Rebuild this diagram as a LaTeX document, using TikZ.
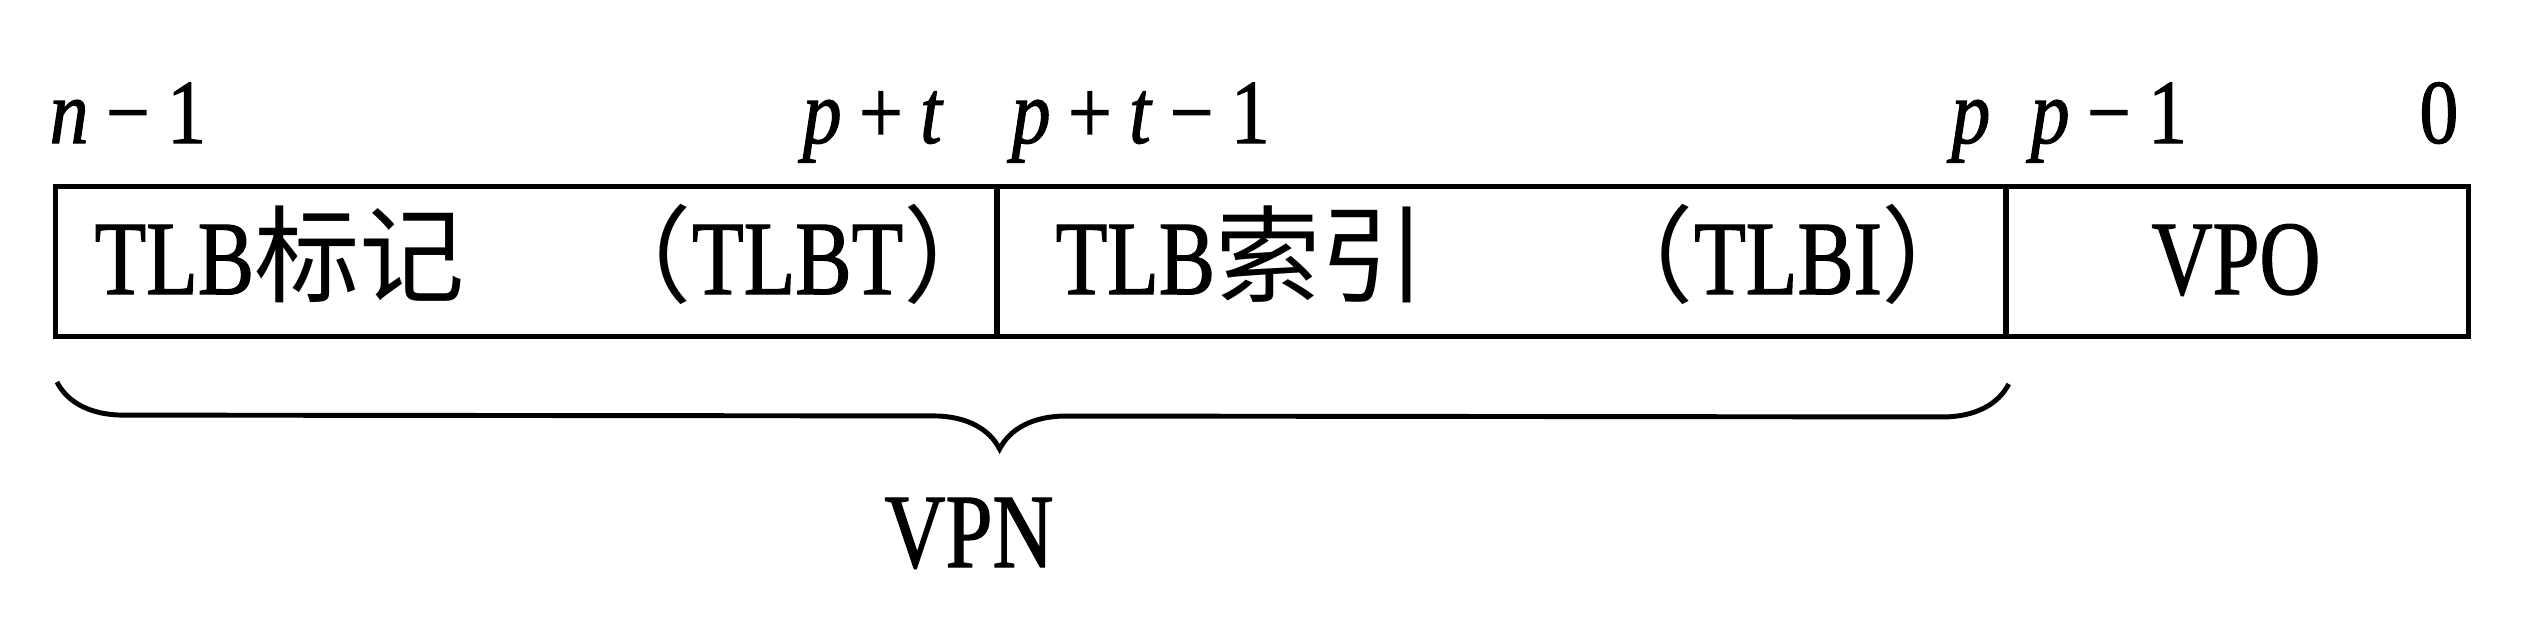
\documentclass[tikz,border=0pt]{standalone}
\usepackage{fontspec}
\setmainfont{Liberation Serif}
\newfontfamily\latc[FakeStretch=0.8,FakeBold=1.2]{Liberation Serif}
\newfontfamily\labf[FakeStretch=0.85,FakeBold=1.2]{Liberation Serif}
\newfontfamily\cjk{Noto Sans CJK SC}
\usetikzlibrary{decorations.pathreplacing}
\newcommand\opgap{\hspace{0.19em}}
\begin{document}
\begin{tikzpicture}[x=0.01cm,y=-0.01cm,
  field/.style={draw, line width=1.45pt, minimum height=1.5cm, inner sep=0pt, anchor=north west},
  ftext/.style={inner sep=0pt, font=\fontsize{30}{32}\selectfont},
  bitlbl/.style={inner sep=0pt, font=\fontsize{26}{28}\selectfont\labf},
  bracestyle/.style={line width=1.4pt, decorate, decoration={brace, mirror, amplitude=0.66cm, aspect=0.483}}]
\useasboundingbox (0,0) rectangle (2522,620);
\fill[white] (0,0) rectangle (2522,620);
% fields
\node[field, minimum width=9.41cm] (tag) at (53,184) {};
\node[field, minimum width=10.09cm] (idx) at (994,184) {};
\node[field, minimum width=4.63cm] (off) at (2003,184) {};
% field texts
\node[ftext, anchor=base west] (tagname) at (94,294) {{\latc TLB}{\cjk 标记}};
\node[ftext, anchor=base west] (tagabbr) at (586,294) {{\cjk （}{\latc TLBT}{\cjk ）}};
\node[ftext, anchor=base west] (idxname) at (1055,294) {{\latc TLB}{\cjk 索引}};
\node[ftext, anchor=base east] (idxabbr) at (1988,294) {{\cjk （}{\latc TLBI}{\cjk ）}};
\node[ftext, anchor=base] (offname) at (2236,294) {{\latc VPO}};
% bit labels
\node[bitlbl, anchor=base west] (b1) at (49,143) {\textit{n}\opgap−\opgap 1};
\node[bitlbl, anchor=base east] (b2) at (944,143) {\textit{p}\opgap+\opgap\textit{t}};
\node[bitlbl, anchor=base west] (b3) at (1011,143) {\textit{p}\opgap+\opgap\textit{t}\opgap−\opgap 1};
\node[bitlbl, anchor=base east] (b4) at (1991,143) {\textit{p}};
\node[bitlbl, anchor=base west] (b5) at (2030,143) {\textit{p}\opgap−\opgap 1};
\node[bitlbl, anchor=base east] (b6) at (2459,143) {0};
% brace
\coordinate (bl) at ([xshift=0.04cm]tag.south west |- 0,382);
\coordinate (br) at (idx.south east |- 0,384);
\draw[bracestyle] (bl) -- (br);
\node[inner sep=0pt, anchor=base, font=\fontsize{30}{32}\selectfont] (vpn) at (969,567) {\latc VPN};
\end{tikzpicture}
\end{document}
